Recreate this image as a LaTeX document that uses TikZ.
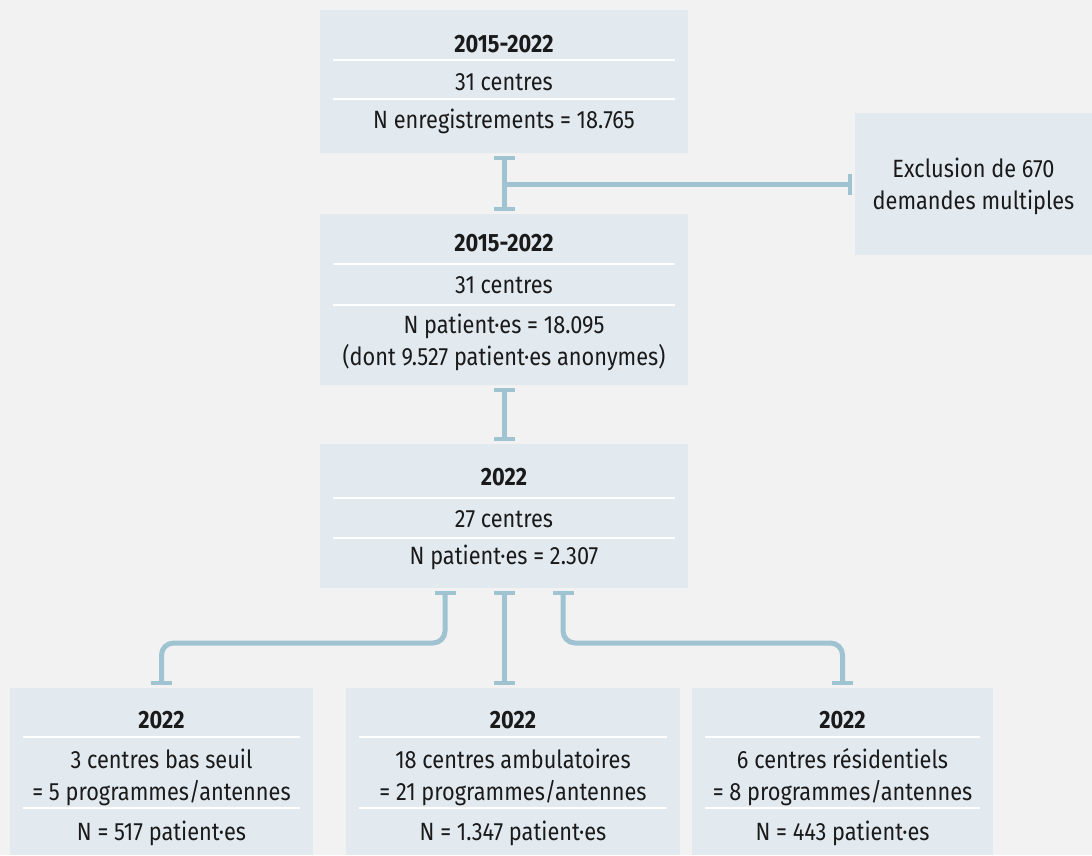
\documentclass[tikz,border=0pt]{standalone}
\usepackage{fontspec}
\setmainfont{Fira Sans}[FakeStretch=0.87]
\usetikzlibrary{arrows.meta,positioning}
\definecolor{bgcol}{HTML}{F2F2F2}
\definecolor{boxcol}{HTML}{E2EAF0}
\definecolor{linkcol}{HTML}{9FC3D1}
\definecolor{txtcol}{HTML}{1A1A1A}

\begin{document}
\begin{tikzpicture}[
    x={(1pt,0)}, y={(0,-1pt)},
    box/.style={rectangle,fill=boxcol,inner sep=0pt,outer sep=0pt},
    label/.style={text=txtcol,font=\fontsize{25}{32}\selectfont,align=center,inner sep=0pt},
    head/.style={label,font=\fontsize{25}{32}\selectfont\bfseries},
    sep/.style={white,line width=1.5pt},
    link/.style={linkcol,line width=5pt,{Bar[width=21pt,line width=4pt]}-{Bar[width=21pt,line width=4pt]},shorten <=3pt,shorten >=3pt},
    linkend/.style={linkcol,line width=5pt,-{Bar[width=21pt,line width=4pt]},shorten >=3pt}
]

% Background
\fill[bgcol] (0,0) rectangle (1092,855);
\useasboundingbox (0,0) rectangle (1092,855);

% Boxes
\node[box,minimum width=368pt,minimum height=143pt] (top) at (504,81.5) {};
\node[box,minimum width=237pt,minimum height=142pt] (excl) at (973.5,184) {};
\node[box,minimum width=368pt,minimum height=171pt] (mid) at (504,299.5) {};
\node[box,minimum width=368pt,minimum height=144pt] (all) at (504,516) {};
\node[box,minimum width=303pt,minimum height=167pt] (low) at (161.5,771.5) {};
\node[box,minimum width=334pt,minimum height=167pt] (amb) at (513,771.5) {};
\node[box,minimum width=301pt,minimum height=167pt] (res) at (842.5,771.5) {};

% Separators
\foreach \b/\ya/\yb in {top/60/99, mid/264/305, all/498/538, low/737/808, amb/737/808, res/737/808} {
    \draw[sep] ([xshift=13pt]\b.west |- 0,\ya) -- ([xshift=-13pt]\b.east |- 0,\ya);
    \draw[sep] ([xshift=13pt]\b.west |- 0,\yb) -- ([xshift=-13pt]\b.east |- 0,\yb);
}

% Texts
\node[head] (top1) at (504,44) {2015-2022};
\node[label] (top2) at (504,82) {31 centres};
\node[label] (top3) at (504,121) {N enregistrements = 18.765};

\node[label] (excl1) at (973.5,186) {Exclusion de 670\\demandes multiples};

\node[head] (mid1) at (504,243) {2015-2022};
\node[label] (mid2) at (504,285) {31 centres};
\node[label] (mid3) at (504,342) {N patient·es = 18.095\\(dont 9.527 patient·es anonymes)};

\node[head] (all1) at (504,477) {2022};
\node[label] (all2) at (504,519) {27 centres};
\node[label] (all3) at (504,557) {N patient·es = 2.307};

\node[head] (low1) at (161.5,720) {2022};
\node[label] (low2) at (161.5,777) {3 centres bas seuil\\= 5 programmes/antennes};
\node[label] (low3) at (161.5,833) {N = 517 patient·es};

\node[head] (amb1) at (513,720) {2022};
\node[label] (amb2) at (513,777) {18 centres ambulatoires\\= 21 programmes/antennes};
\node[label] (amb3) at (513,833) {N = 1.347 patient·es};

\node[head] (res1) at (842.5,720) {2022};
\node[label] (res2) at (842.5,777) {6 centres résidentiels\\= 8 programmes/antennes};
\node[label] (res3) at (842.5,833) {N = 443 patient·es};

% Connectors
\draw[link] (top.south) -- (mid.north);
\draw[linkend] (top.south |- excl.west) -- (excl.west);
\draw[link] (mid.south) -- (all.north);
\draw[link,rounded corners=12pt] ([xshift=-59pt]all.south) -- ++(0,55) -| (low.north);
\draw[link] (all.south) -- (all.south |- amb.north);
\draw[link,rounded corners=12pt] ([xshift=59pt]all.south) -- ++(0,55) -| (res.north);

\end{tikzpicture}
\end{document}
